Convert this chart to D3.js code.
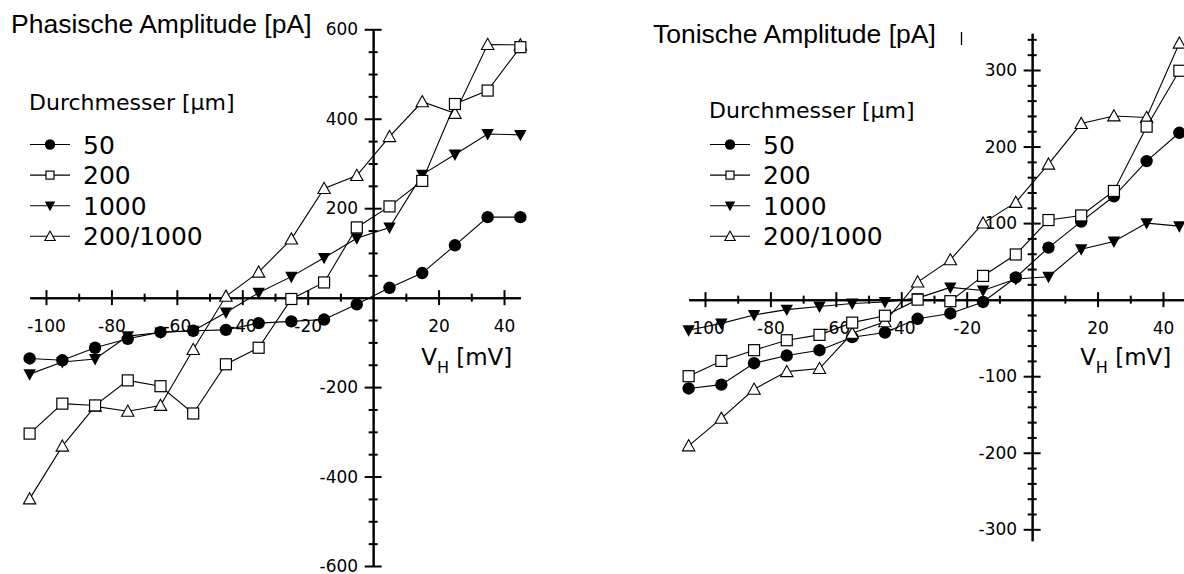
<!DOCTYPE html>
<html>
<head>
<meta charset="utf-8">
<script src="https://cdn.jsdelivr.net/npm/d3@7"></script>
<style>
  body { margin: 0; background: #fff; }
  svg { display: block; }
</style>
</head>
<body>
<svg width="1184" height="574"></svg>
<script>
// Holding potentials (mV)
var voltages = [-105, -95, -85, -75, -65, -55, -45, -35, -25, -15, -5, 5, 15, 25, 35, 45];
var seriesLabels = ["50", "200", "1000", "200/1000"];

// phasic amplitude (pA)
var phasic50   = [-136, -140, -112, -92, -77, -74, -72, -57, -53, -49, -15, 22, 55, 117, 180, 180];
var phasic200  = [-304, -237, -241, -185, -198, -259, -149, -112, -3, 34, 157, 204, 261, 433, 463, 560];
var phasic1000 = [-171, -144, -137, -86, -78, -74, -33, 11, 47, 89, 133, 157, 275, 320, 366, 364];
var phasicMix  = [-450, -332, -243, -254, -241, -116, 3, 57, 131, 244, 273, 360, 438, 412, 566, 565];

// tonic amplitude (pA)
var tonic50   = [-116, -111, -83, -73, -66, -49, -43, -25, -18, -3, 29, 68, 102, 135, 181, 218];
var tonic200  = [-100, -80, -66, -53, -46, -30, -21, 0, -2, 31, 59, 104, 110, 142, 226, 299];
var tonic1000 = [-40, -31, -20, -13, -9, -5, -3, 2, 16, 12, 27, 30, 66, 76, 100, 96];
var tonicMix  = [-191, -155, -117, -94, -90, -44, -29, 23, 52, 100, 127, 177, 230, 240, 238, 335];

var xMajorTicks = [-100, -80, -60, -40, -20, 20, 40];
var xMinorTicks = [-90, -70, -50, -30, -10, 10, 30];
var phasicMajorTicks = [-600, -400, -200, 200, 400, 600];
var tonicMajorTicks = [-300, -200, -100, 100, 200, 300];

var svg = d3.select("svg");
var NUM_FONT = "'DejaVu Sans', Verdana, sans-serif";
var TITLE_FONT = "'Liberation Sans', Arial, Helvetica, sans-serif";

function marker(sel, type, s) {
  // s = half width
  if (type == "circle") {
    sel.append("circle").attr("r", s).attr("fill", "#000");
  } else if (type == "square") {
    sel.append("rect").attr("x", -s + 0.5).attr("y", -s + 0.5)
      .attr("width", 2 * s - 1).attr("height", 2 * s - 1)
      .attr("fill", "#fff").attr("stroke", "#000").attr("stroke-width", 1.2);
  } else if (type == "down") {
    sel.append("path").attr("d", "M" + (-s) + "," + (-s * 0.8) + "L" + s + "," + (-s * 0.8) + "L0," + (s * 1.05) + "Z")
      .attr("fill", "#000");
  } else {
    sel.append("path").attr("d", "M0," + (-s * 1.0) + "L" + s + "," + (s * 0.8) + "L" + (-s) + "," + (s * 0.8) + "Z")
      .attr("fill", "#fff").attr("stroke", "#000").attr("stroke-width", 1.1);
  }
}

function plainNum(d) { return String(d); }   // hyphen minus like the original

function drawPanel(cfg) {
  var g = svg.append("g");
  var x = d3.scaleLinear().domain(cfg.xDomain).range(cfg.xRange);
  var y = d3.scaleLinear().domain(cfg.yDomain).range(cfg.yRange);

  // x axis (major + minor crossing ticks)
  var xMinor = g.append("g").attr("transform", "translate(0," + y(0) + ")")
    .call(d3.axisBottom(x).tickValues(xMinorTicks).tickSizeOuter(0).tickFormat(""));
  xMinor.selectAll(".tick line").attr("y1", -4).attr("y2", 4);

  var xAxis = g.append("g").attr("transform", "translate(0," + y(0) + ")")
    .call(d3.axisBottom(x).tickValues(xMajorTicks).tickSizeOuter(0).tickFormat(plainNum));
  xAxis.selectAll(".tick line").attr("y1", -7.5).attr("y2", 7.5);
  xAxis.selectAll(".tick text").attr("y", 34).attr("dy", 0);

  // y axis
  var yMinor = g.append("g").attr("transform", "translate(" + x(0) + ",0)")
    .call(d3.axisLeft(y).tickValues(cfg.yMinor).tickSizeOuter(0).tickFormat(""));
  yMinor.selectAll(".tick line").attr("x1", -4.5).attr("x2", 4.5);

  var yAxis = g.append("g").attr("transform", "translate(" + x(0) + ",0)")
    .call(d3.axisLeft(y).tickValues(cfg.yMajor).tickSizeOuter(0).tickFormat(plainNum));
  yAxis.selectAll(".tick line").attr("x1", -8.5).attr("x2", 8.5);
  yAxis.selectAll(".tick text").attr("x", -15).attr("dy", "0.33em");

  g.selectAll(".domain").attr("stroke", "#000").attr("stroke-width", 2);
  g.selectAll(".tick line").attr("stroke", "#000").attr("stroke-width", 2);
  g.selectAll(".tick text").attr("fill", "#000")
    .attr("font-family", NUM_FONT).attr("font-size", 17);

  // series: draw order 1000, 50, 200/1000, 200
  var line = d3.line().x(function(d) { return x(d[0]); }).y(function(d) { return y(d[1]); });
  var order = [2, 0, 3, 1];
  order.forEach(function(si) {
    var pts = voltages.map(function(v, i) { return [v, cfg.series[si][i]]; });
    g.append("path").datum(pts).attr("d", line)
      .attr("fill", "none").attr("stroke", "#000").attr("stroke-width", 1.1);
    g.selectAll(".m" + si).data(pts).enter().append("g")
      .attr("transform", function(d) { return "translate(" + x(d[0]) + "," + y(d[1]) + ")"; })
      .each(function() { marker(d3.select(this), cfg.markers[si], cfg.markers[si] == "square" ? 6 : 6.2); });
  });

  // titles
  g.append("text").attr("x", cfg.titleX).attr("y", cfg.titleY)
    .attr("font-family", TITLE_FONT).attr("font-size", 26.5).text(cfg.title);

  // V_H [mV]
  var vh = g.append("text").attr("x", x(0) + cfg.vhDx).attr("y", 365)
    .attr("font-family", NUM_FONT).attr("font-size", 23);
  vh.append("tspan").text("V");
  vh.append("tspan").attr("font-size", 16).attr("dy", 8).text("H");
  vh.append("tspan").attr("dy", -8).text(" [mV]");

  // legend
  var lg = g.append("g");
  lg.append("text").attr("x", cfg.legX - 1).attr("y", cfg.legTitleY)
    .attr("font-family", NUM_FONT).attr("font-size", 22).text("Durchmesser [\u00b5m]");
  seriesLabels.forEach(function(lab, i) {
    var ly = 144.5 + i * 30.6;
    lg.append("line").attr("x1", cfg.legX).attr("x2", cfg.legX + 40).attr("y1", ly).attr("y2", ly)
      .attr("stroke", "#000").attr("stroke-width", 1.1);
    var mg = lg.append("g").attr("transform", "translate(" + (cfg.legX + 20) + "," + ly + ")");
    marker(mg, cfg.markers[i], cfg.markers[i] == "square" ? 4.5 : 5.2);
    lg.append("text").attr("x", cfg.legX + 53).attr("y", ly + 9)
      .attr("font-family", NUM_FONT).attr("font-size", 25).text(lab);
  });
}

var markers = ["circle", "square", "down", "up"];

drawPanel({
  xDomain: [-105, 45], xRange: [29.63, 520.37],
  yDomain: [-600, 600], yRange: [566, 29.3],
  yMajor: phasicMajorTicks,
  yMinor: d3.range(-550, 600, 50).filter(function(v) { return v % 200 != 0; }),
  series: [phasic50, phasic200, phasic1000, phasicMix],
  markers: markers,
  title: "Phasische Amplitude [pA]", titleX: 11, titleY: 33,
  vhDx: 48, legX: 30, legTitleY: 110
});

drawPanel({
  xDomain: [-105, 46.3], xRange: [688.63, 1183.6],
  yDomain: [-315, 348], yRange: [540.8, 33.25],
  yMajor: tonicMajorTicks,
  yMinor: d3.range(-280, 350, 20).filter(function(v) { return v % 100 != 0; }),
  series: [tonic50, tonic200, tonic1000, tonicMix],
  markers: markers,
  title: "Tonische Amplitude [pA]", titleX: 653, titleY: 43,
  vhDx: 48, legX: 710, legTitleY: 118
});

// stray cursor bar next to the right title
svg.append("line").attr("x1", 961.5).attr("x2", 961.5).attr("y1", 32).attr("y2", 45)
  .attr("stroke", "#000").attr("stroke-width", 1.3);
</script>
</body>
</html>
